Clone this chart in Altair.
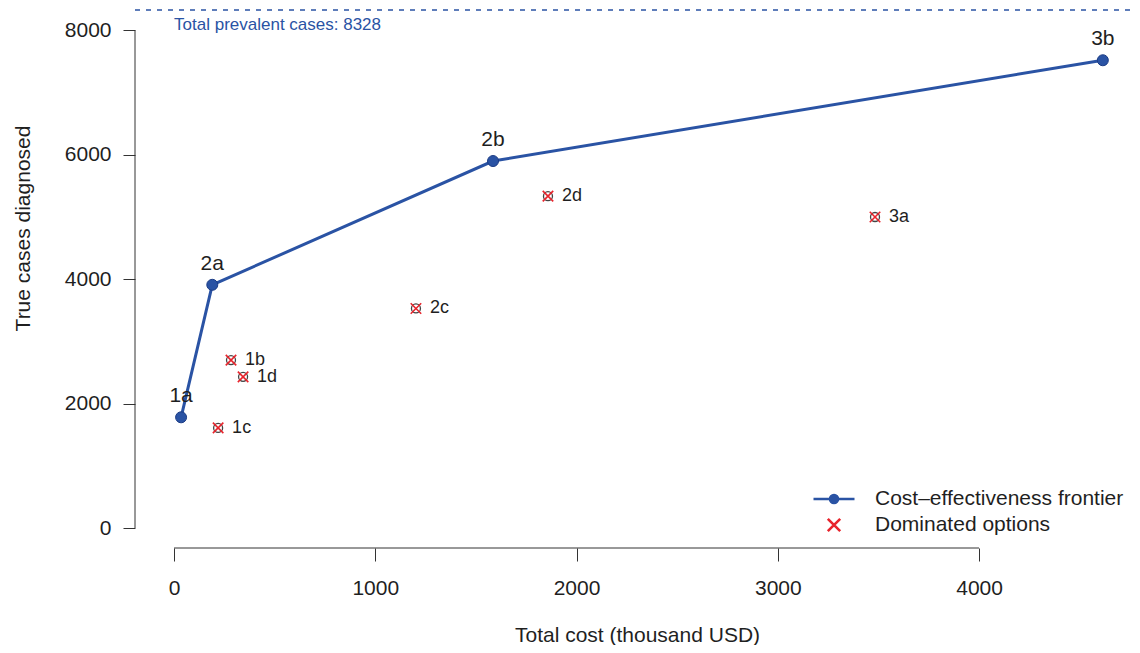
import altair as alt
import pandas as pd

# ---------------- data ----------------
frontier_labels = ["1a", "2a", "2b", "3b"]
frontier_cost = [35, 190, 1585, 4615]
frontier_cases = [1780, 3910, 5900, 7520]

dominated_labels = ["1b", "1c", "1d", "2c", "2d", "3a"]
dominated_cost = [283, 219, 343, 1202, 1858, 3483]
dominated_cases = [2700, 1610, 2430, 3530, 5335, 5000]

total_prevalent = 8328
x_ticks = [0, 1000, 2000, 3000, 4000]
y_ticks = [0, 2000, 4000, 6000, 8000]
legend_labels = ["Cost\u2013effectiveness frontier", "Dominated options"]

# ---------------- style ----------------
BLUE = "#2a53a4"
BLUE_EDGE = "#1c3c85"
RED = "#e8242c"
INK = "#1f1f1f"
AXIS = "#333333"
FONT = "Liberation Sans"
W, H = 995, 540
XDOM = [-194, 4750]
YDOM = [-321, 8360]

frontier = pd.DataFrame({"label": frontier_labels, "cost": frontier_cost, "cases": frontier_cases})
dominated = pd.DataFrame({"label": dominated_labels, "cost": dominated_cost, "cases": dominated_cases})
prevalent = pd.DataFrame({"cost": [x_ticks[0]], "cases": [total_prevalent],
                          "txt": [f"Total prevalent cases: {total_prevalent}"]})
yline = pd.DataFrame({"y0": [min(y_ticks)], "y1": [max(y_ticks)]})
xline = pd.DataFrame({"x0": [min(x_ticks)], "x1": [max(x_ticks)]})
legend_df = pd.DataFrame({"series": legend_labels})

xscale = alt.Scale(domain=XDOM, nice=False, zero=False)
yscale = alt.Scale(domain=YDOM, nice=False, zero=False)

x_axis = alt.Axis(
    title="Total cost (thousand USD)", values=x_ticks, format="d", grid=False, domain=False,
    tickSize=13, tickColor=AXIS, tickWidth=1, labelFontSize=21, labelFont=FONT,
    labelColor=INK, labelPadding=16, labelFlush=False, titleFontSize=21, titleFont=FONT,
    titleColor=INK, titleFontWeight="normal", titleX=502, titleY=93,
    titleBaseline="alphabetic", titleAlign="center",
)
y_axis = alt.Axis(
    title="True cases diagnosed", values=y_ticks, format="d", grid=False, domain=False,
    tickSize=12, tickColor=AXIS, tickWidth=1, labelFontSize=21, labelFont=FONT,
    labelColor=INK, labelPadding=12, labelFlush=False, titleFontSize=21, titleFont=FONT,
    titleColor=INK, titleFontWeight="normal", titleX=-112, titleY=220,
    titleBaseline="middle", titleAlign="center",
)

# axis lines (R style, detached, spanning the tick range only)
y_axis_line = alt.Chart(yline).mark_rule(color=AXIS, strokeWidth=1).encode(
    x=alt.value(0),
    y=alt.Y("y0:Q", scale=yscale, axis=y_axis),
    y2="y1:Q",
)
x_axis_line = alt.Chart(xline).mark_rule(color=AXIS, strokeWidth=1).encode(
    x=alt.X("x0:Q", scale=xscale, axis=x_axis),
    x2="x1:Q",
    y=alt.value(H),
)

prev_rule = alt.Chart(prevalent).mark_rule(color=BLUE, strokeWidth=1.5, strokeDash=[5, 6]).encode(
    y=alt.Y("cases:Q", scale=yscale, axis=y_axis),
)
prev_text = alt.Chart(prevalent).mark_text(
    align="left", baseline="middle", dy=15, fontSize=17, font=FONT, color=BLUE
).encode(
    x=alt.X("cost:Q", scale=xscale, axis=x_axis),
    y=alt.Y("cases:Q", scale=yscale, axis=y_axis),
    text="txt:N",
)

fx = alt.X("cost:Q", scale=xscale, axis=x_axis)
fy = alt.Y("cases:Q", scale=yscale, axis=y_axis)

front_line = alt.Chart(frontier).mark_line(color=BLUE, strokeWidth=3).encode(
    x=fx, y=fy, order="cost:Q"
)
front_pts = alt.Chart(frontier).mark_point(
    shape="circle", filled=True, size=121, fill=BLUE, stroke=BLUE_EDGE, strokeWidth=1, opacity=1
).encode(x=fx, y=fy)
front_txt = alt.Chart(frontier).mark_text(
    dy=-21, fontSize=21, font=FONT, color=INK, baseline="middle"
).encode(x=fx, y=fy, text="label:N")

dom_circ = alt.Chart(dominated).mark_point(
    shape="circle", filled=False, size=81, stroke="#444444", strokeWidth=1.3, opacity=1
).encode(x=fx, y=fy)
dom_x = alt.Chart(dominated).mark_point(
    shape="M-1,-1L1,1M1,-1L-1,1", filled=False, size=110, stroke=RED, strokeWidth=1.6, opacity=1
).encode(x=fx, y=fy)
dom_txt = alt.Chart(dominated).mark_text(
    align="left", baseline="middle", dx=14, fontSize=18, font=FONT, color=INK
).encode(x=fx, y=fy, text="label:N")

shape_paths = [
    "M-2.05,0L2.05,0M-0.4,0A0.4,0.4,0,1,1,0.4,0A0.4,0.4,0,1,1,-0.4,0Z",
    "M-0.62,-0.62L0.62,0.62M0.62,-0.62L-0.62,0.62",
]
legend = alt.Legend(
    title=None, orient="none", legendX=687.5, legendY=479.5, symbolSize=400,
    symbolStrokeWidth=2.6, symbolOpacity=1, labelFontSize=21, labelFont=FONT,
    labelColor=INK, labelOffset=29.5, labelLimit=600, rowPadding=4, padding=0,
)
legend_layer = alt.Chart(legend_df).mark_point(filled=True, opacity=0).encode(
    shape=alt.Shape("series:N", scale=alt.Scale(domain=legend_labels, range=shape_paths), legend=legend),
    color=alt.Color("series:N", scale=alt.Scale(domain=legend_labels, range=[BLUE, RED]), legend=legend),
    stroke=alt.Stroke("series:N", scale=alt.Scale(domain=legend_labels, range=[BLUE, RED]), legend=legend),
)

chart = alt.layer(
    y_axis_line, x_axis_line, prev_rule, prev_text,
    front_line, front_pts, front_txt,
    dom_circ, dom_x, dom_txt, legend_layer,
).properties(
    width=W, height=H,
    autosize=alt.AutoSizeParams(type="none"),
    padding={"left": 127, "top": 0, "right": 2, "bottom": 97},
    background="white",
).configure_view(stroke=None)

chart.save("out.html", embed_options={"renderer": "svg", "actions": False})
